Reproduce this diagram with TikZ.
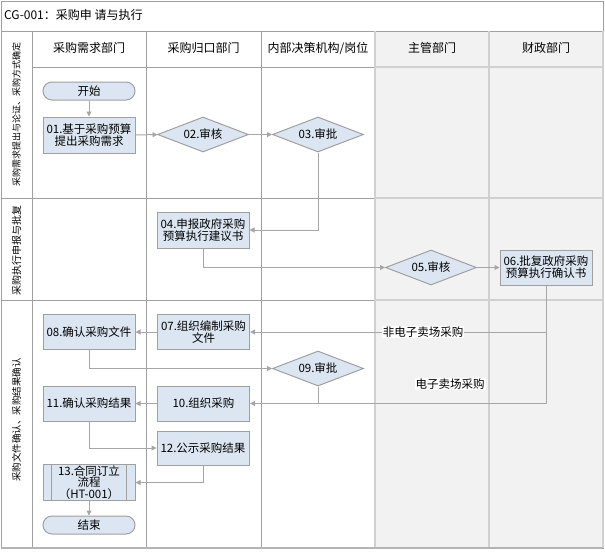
\documentclass[tikz,border=0pt]{standalone}
\usepackage{fontspec}
\setmainfont{Noto Sans CJK SC}
\usetikzlibrary{shapes.geometric,arrows.meta}
\definecolor{boxfill}{HTML}{DCE6F2}
\definecolor{boxline}{HTML}{A0A0A0}
\definecolor{conn}{HTML}{A6A6A6}
\definecolor{grid}{HTML}{A0A0A0}
\definecolor{gridlt}{HTML}{D0D0D0}
\definecolor{grayfill}{HTML}{F2F2F2}
\definecolor{bottomline}{HTML}{B4B4B4}
\begin{document}
\begin{tikzpicture}[x=1pt,y=-1pt,
  txt/.style={font=\fontsize{11.5}{12}\selectfont, text=black},
  stepbox/.style={txt, draw=boxline, fill=boxfill, line width=1pt, minimum width=92, minimum height=35, inner sep=1, align=center},
  dec/.style={txt, diamond, draw=boxline, fill=boxfill, line width=1pt, aspect=2.6, inner sep=0, minimum width=91, minimum height=35},
  term/.style={txt, draw=boxline, fill=boxfill, line width=1pt, rounded corners=9, minimum width=92, minimum height=18, inner sep=0},
  flow/.style={draw=conn, line width=1pt, -{Triangle[length=5pt,width=5pt]}},
  plain/.style={draw=conn, line width=1pt},
  hdr/.style={font=\fontsize{12}{12}\selectfont, inner sep=0},
  lane/.style={rotate=90, inner sep=0},
  lbl/.style={txt, fill=white, inner sep=1}
]
\useasboundingbox (0,0) rectangle (605,552);
\fill[white] (0,0) rectangle (605,552);
% grid
\fill[grayfill] (375,31) rectangle (603,548);
\draw[grid, line width=1pt] (1,1) rectangle (603,548);
\draw[grid, line width=1pt] (1,31) -- (603,31);
\draw[grid, line width=1pt] (32,67) -- (375,67);
\draw[gridlt, line width=1.5pt] (375,67) -- (603,67);
\draw[grid, line width=1pt] (1,198) -- (375,198);
\draw[gridlt, line width=1.5pt] (375,198) -- (603,198);
\draw[grid, line width=1pt] (1,300) -- (375,300);
\draw[gridlt, line width=1.5pt] (375,300) -- (603,300);
\draw[grid, line width=1pt] (32,31) -- (32,548);
\draw[grid, line width=1pt] (146,31) -- (146,548);
\draw[grid, line width=1pt] (261,31) -- (261,548);
\draw[gridlt, line width=1.5pt] (375,31) -- (375,548);
\draw[gridlt, line width=1.5pt] (489,31) -- (489,548);
\draw[gridlt, line width=1.5pt] (603,31) -- (603,548);
\draw[bottomline, line width=2pt] (1,548) -- (603,548);
% title and headers
\node[hdr, anchor=west] (title) at (4,15) {CG-001：采购申 请与执行};
\node[hdr] (h1) at (89,48) {采购需求部门};
\node[hdr] (h2) at (203.5,48) {采购归口部门};
\node[hdr] (h3) at (318,48) {内部决策机构/岗位};
\node[hdr] (h4) at (432,48) {主管部门};
\node[hdr] (h5) at (546,48) {财政部门};
% lane labels
\node[lane, font=\fontsize{9}{9}\selectfont] (l1) at (16.5,114) {采购需求提出与论证、采购方式确定};
\node[lane, font=\fontsize{10}{10}\selectfont] (l2) at (16.5,250) {采购执行申报与批复};
\node[lane, font=\fontsize{9.5}{9.5}\selectfont] (l3) at (16.5,420) {采购文件确认、采购结果确认};
% nodes
\node[term] (start) at (89,91) {开始};
\node[stepbox, minimum height=36] (n01) at (89,135) {01.基于采购预算\\提出采购需求};
\node[dec] (n02) at (203,134.5) {02.审核};
\node[dec] (n03) at (318,134.5) {03.审批};
\node[stepbox, minimum height=36] (n04) at (203,230) {04.申报政府采购\\预算执行建议书};
\node[dec] (n05) at (431,267.5) {05.审核};
\node[stepbox] (n06) at (546,267.5) {06.批复政府采购\\预算执行确认书};
\node[stepbox] (n07) at (203.5,332) {07.组织编制采购\\文件};
\node[stepbox] (n08) at (89,332) {08.确认采购文件};
\node[dec] (n09) at (318,368.5) {09.审批};
\node[stepbox] (n10) at (203.5,403.5) {10.组织采购};
\node[stepbox] (n11) at (89,403.5) {11.确认采购结果};
\node[stepbox, minimum height=34] (n12) at (203,448) {12.公示采购结果};
\node[stepbox, font=\fontsize{11.5}{10}\selectfont] (n13) at (89,482.5) {13.合同订立\\流程\\（HT-001）};
\draw[boxline, line width=1pt] ([xshift=9pt]n13.north west) -- ([xshift=9pt]n13.south west);
\draw[boxline, line width=1pt] ([xshift=-9pt]n13.north east) -- ([xshift=-9pt]n13.south east);
\node[term] (end) at (89,525) {结束};
% connectors
\draw[flow] (start) -- (n01);
\draw[flow] (n01) -- (n02);
\draw[flow] (n02) -- (n03);
\draw[flow] (n03.south) |- (n04.east);
\draw[flow] (n04.south) |- (n05.west);
\draw[flow] (n05) -- (n06);
\draw[flow] (n06.south) |- (n07.east);
\draw[flow] (n06.south) |- (n10.east);
\draw[flow] (n07) -- (n08);
\draw[flow] (n08.south) |- (n09.west);
\draw[plain] (n09.south) -- (n09.south |- n10.east);
\draw[flow] (n10) -- (n11);
\draw[flow] (n11.south) |- (n12.west);
\draw[flow] (n12.south) |- (n13.east);
\draw[flow] (n13) -- (end);
\node[lbl] (c1) at (423,332) {非电子卖场采购};
\node[lbl] (c2) at (450,384) {电子卖场采购};
\end{tikzpicture}
\end{document}
